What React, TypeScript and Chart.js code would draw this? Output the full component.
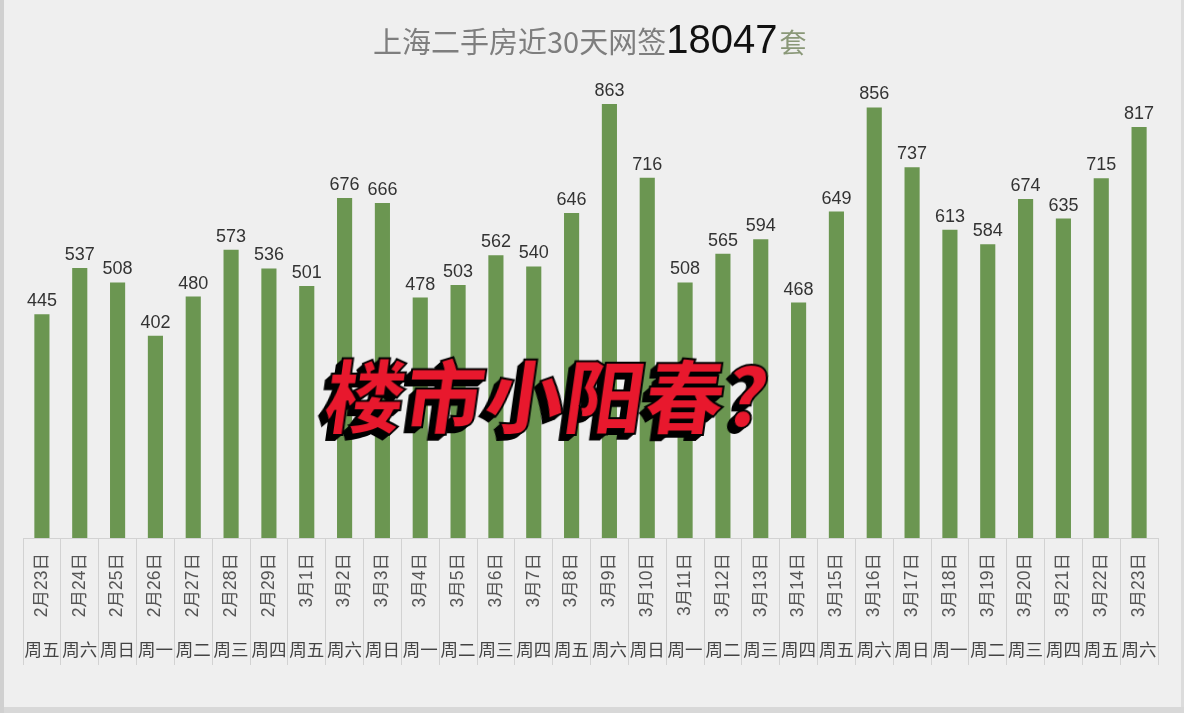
import React, { useEffect, useRef } from "react";
import { Chart, registerables } from "chart.js";

Chart.register(...registerables);

const dates = [
  "2月23日", "2月24日", "2月25日", "2月26日", "2月27日", "2月28日", "2月29日",
  "3月1日", "3月2日", "3月3日", "3月4日", "3月5日", "3月6日", "3月7日",
  "3月8日", "3月9日", "3月10日", "3月11日", "3月12日", "3月13日", "3月14日",
  "3月15日", "3月16日", "3月17日", "3月18日", "3月19日", "3月20日", "3月21日",
  "3月22日", "3月23日",
];

const weekdays = [
  "周五", "周六", "周日", "周一", "周二", "周三", "周四",
  "周五", "周六", "周日", "周一", "周二", "周三", "周四",
  "周五", "周六", "周日", "周一", "周二", "周三", "周四",
  "周五", "周六", "周日", "周一", "周二", "周三", "周四",
  "周五", "周六",
];

const values = [
  445, 537, 508, 402, 480, 573, 536, 501, 676, 666,
  478, 503, 562, 540, 646, 863, 716, 508, 565, 594,
  468, 649, 856, 737, 613, 584, 674, 635, 715, 817,
];

const titleMain = "上海二手房近30天网签";
const titleTotal = "18047";
const titleUnit = "套";
const overlayText = "楼市小阳春?";

const valueLabels = {
  id: "valueLabels",
  afterDatasetsDraw(chart: any) {
    const ctx = chart.ctx;
    const meta = chart.getDatasetMeta(0);
    ctx.save();
    ctx.font = '18px "Liberation Sans", Arial, sans-serif';
    ctx.fillStyle = "#333333";
    ctx.textAlign = "center";
    ctx.textBaseline = "alphabetic";
    meta.data.forEach((bar: any, i: number) => {
      ctx.fillText(String(values[i]), bar.x, bar.y - 8);
    });
    ctx.restore();
  },
};

export default function App() {
  const canvasRef = useRef<HTMLCanvasElement | null>(null);

  useEffect(() => {
    document.body.style.margin = "0";
    const canvas = canvasRef.current;
    if (!canvas) return;
    const chart = new Chart(canvas, {
      type: "bar",
      data: {
        labels: dates,
        datasets: [
          {
            data: values,
            backgroundColor: "#6b9651",
            borderWidth: 0,
            categoryPercentage: 1,
            barPercentage: 0.4,
            xAxisID: "x",
            yAxisID: "y",
          },
        ],
      },
      options: {
        responsive: false,
        animation: false,
        layout: { padding: { top: 35, left: 23, right: 26, bottom: 45 } },
        plugins: {
          legend: { display: false },
          title: { display: false },
          tooltip: { enabled: false },
        },
        scales: {
          y: { display: false, min: 0, max: 1000 },
          x: {
            position: "bottom",
            offset: true,
            grid: {
              offset: true,
              drawOnChartArea: false,
              drawTicks: true,
              tickLength: 127,
              color: "#d2d2d2",
            },
            border: { display: true, color: "#d2d2d2" },
            ticks: {
              autoSkip: false,
              minRotation: 90,
              maxRotation: 90,
              padding: -112,
              color: "#555555",
              font: { family: '"Liberation Sans", "Noto Sans CJK SC", sans-serif', size: 17.5 },
            },
            afterFit: (s: any) => {
              s.height = 90;
            },
          },
          x2: {
            type: "category",
            labels: weekdays,
            position: "bottom",
            offset: true,
            grid: { display: false, drawTicks: false },
            border: { display: false },
            ticks: {
              autoSkip: false,
              minRotation: 0,
              maxRotation: 0,
              padding: 11,
              color: "#444444",
              font: { family: '"Noto Sans CJK SC", sans-serif', size: 17.5 },
            },
            afterFit: (s: any) => {
              s.height = 40;
            },
          },
        },
      },
      plugins: [valueLabels],
    });
    return () => chart.destroy();
  }, []);

  return (
    <div
      style={{
        position: "relative",
        width: 1184,
        height: 713,
        background: "#efefef",
        overflow: "hidden",
        boxShadow: "inset 4px 0 0 #d0d0d0, inset 0 -6px 0 #d8d8d8, inset -3px 0 0 #dcdcdc",
      }}
    >
      <canvas ref={canvasRef} width={1184} height={713} style={{ position: "absolute", left: 0, top: 0 }} />
      <div
        style={{
          position: "absolute",
          left: 373,
          top: 19,
          display: "flex",
          alignItems: "baseline",
          lineHeight: 1,
          whiteSpace: "nowrap",
        }}
      >
        <span style={{ fontFamily: '"Noto Sans CJK SC", sans-serif', fontSize: 29, color: "#7e7e7e" }}>{titleMain}</span>
        <span style={{ fontFamily: '"Liberation Sans", Arial, sans-serif', fontSize: 40, color: "#111111" }}>{titleTotal}</span>
        <span style={{ fontFamily: '"Noto Sans CJK SC", sans-serif', fontSize: 27, color: "#8a9878", marginLeft: 2 }}>{titleUnit}</span>
      </div>
      <div
        style={{
          position: "absolute",
          left: 326,
          top: 352,
          fontFamily: '"Noto Sans CJK SC", sans-serif',
          fontWeight: 900,
          fontSize: 80,
          lineHeight: 1,
          color: "#e8182d",
          WebkitTextStroke: "2px #000000",
          textShadow: "-1px 1px 0 #000, -2px 2px 0 #000, -3px 3px 0 #000, -4px 4px 0 #000, -5px 5px 0 #000, -6px 6px 0 #000",
          transform: "skewX(-8deg)",
          whiteSpace: "nowrap",
        }}
      >
        {overlayText}
      </div>
    </div>
  );
}
